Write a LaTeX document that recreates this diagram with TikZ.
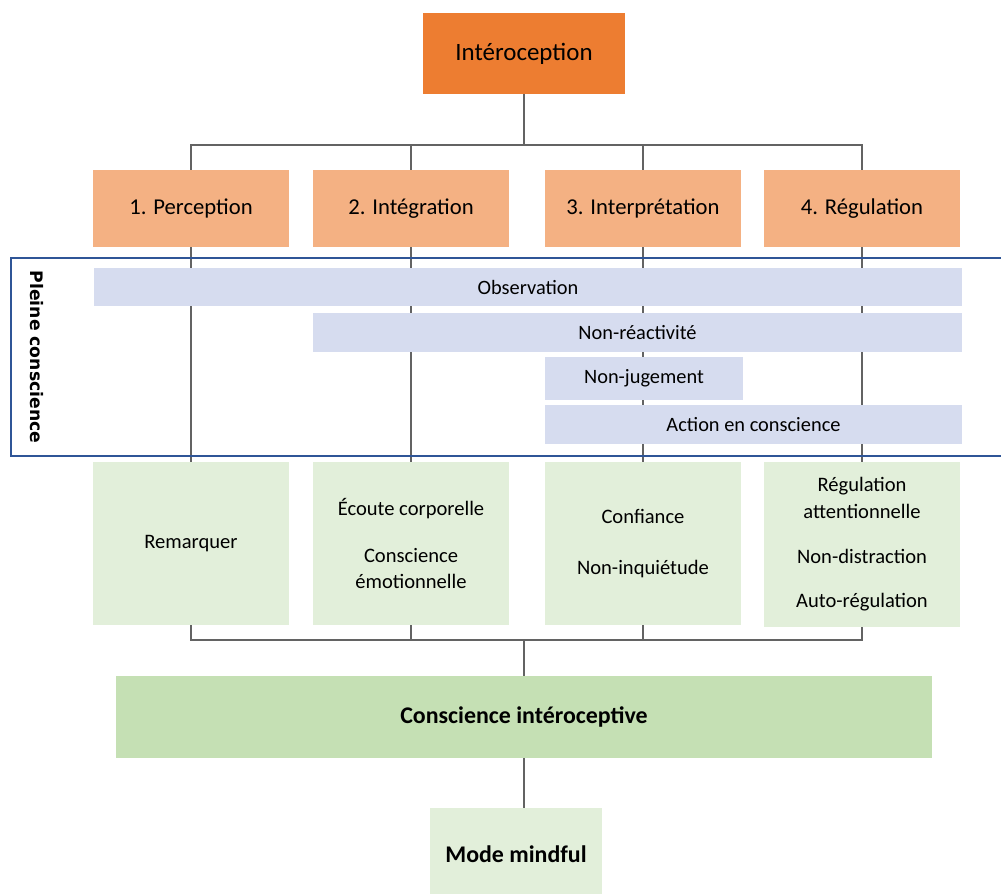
\documentclass[tikz,border=0pt]{standalone}
\usepackage{fontspec}
\setmainfont{Carlito}
\newfontfamily\pcfont{DejaVu Sans}
\definecolor{orangeD}{HTML}{ED7D31}
\definecolor{orangeL}{HTML}{F4B183}
\definecolor{lav}{HTML}{D6DCEF}
\definecolor{greenL}{HTML}{E2EFDA}
\definecolor{greenM}{HTML}{C5E0B4}
\definecolor{frameblue}{HTML}{2F5597}
\definecolor{linegray}{HTML}{636363}
\tikzset{
  box/.style={draw=none, inner sep=0pt, align=center, text=black},
  stagebox/.style={box, fill=orangeL, minimum width=3.94cm, minimum height=1.54cm, font=\fontsize{12.9}{15.5}\selectfont},
  barbox/.style={box, fill=lav, font=\fontsize{11.6}{14}\selectfont},
  greenbox/.style={box, fill=greenL, minimum width=3.94cm, minimum height=3.26cm, font=\fontsize{11.7}{15}\selectfont},
  conn/.style={draw=linegray, line width=1.4pt},
  frameline/.style={draw=frameblue, line width=1.5pt}
}
\begin{document}
\begin{tikzpicture}[x=0.02cm, y=-0.02cm]
\useasboundingbox (0,0) rectangle (1001,893);
% coordinates for buses
\coordinate (tb) at (524,145);
\coordinate (bb) at (524,640);
% nodes
\node[box, fill=orangeD, minimum width=4.04cm, minimum height=1.62cm, font=\fontsize{14.2}{17}\selectfont] (int) at (524,53.5) {Intéroception};
\node[stagebox] (s1) at (191,208.5) {1. Perception};
\node[stagebox] (s2) at (411,208.5) {2. Intégration};
\node[stagebox] (s3) at (643,208.5) {3. Interprétation};
\node[stagebox] (s4) at (862,208.5) {4. Régulation};
\node[greenbox] (g1) at (191,543.5) {Remarquer};
\node[greenbox] (g2) at (411,543.5) {Écoute corporelle\\[12pt]Conscience\\émotionnelle};
\node[greenbox] (g3) at (643,543.5) {Confiance\\[14pt]Non-inquiétude};
\node[greenbox, minimum height=3.3cm] (g4) at (862,544.5) {Régulation\\attentionnelle\\[11pt]Non-distraction\\[10pt]Auto-régulation};
% connectors (behind bars)
\draw[conn] (int.south) -- (tb);
\draw[conn] (s1.north) |- (s4.north |- tb) -- (s4.north);
\draw[conn] (s2.north) -- (s2.north |- tb);
\draw[conn] (s3.north) -- (s3.north |- tb);
\draw[conn] (s1.south) -- (g1.north);
\draw[conn] (s2.south) -- (g2.north);
\draw[conn] (s3.south) -- (g3.north);
\draw[conn] (s4.south) -- (g4.north);
\draw[conn] (g1.south) |- (g4.south |- bb) -- (g4.south);
\draw[conn] (g2.south) -- (g2.south |- bb);
\draw[conn] (g3.south) -- (g3.south |- bb);
% bars
\node[barbox, minimum width=17.36cm, minimum height=0.76cm] (obs) at (528,287) {Observation};
\node[barbox, minimum width=12.98cm, minimum height=0.78cm] (nr) at (637.5,332.5) {Non-réactivité};
\node[barbox, minimum width=3.96cm, minimum height=0.86cm] (nj) at (644,378.5) {Non-jugement};
\node[barbox, minimum width=8.34cm, minimum height=0.78cm] (aec) at (753.5,424.5) {Action en conscience};
% frame
\draw[frameline] (1003,258) -- (11,258) -- (11,456) -- (1003,456);
\node[box, rotate=-90, font=\pcfont\bfseries\fontsize{9.8}{12}\selectfont] (pc) at (37,357) {Pleine conscience};
% bottom
\node[box, fill=greenM, minimum width=16.34cm, minimum height=1.64cm, font=\bfseries\fontsize{13.6}{16}\selectfont] (ci) at (524,717) {Conscience intéroceptive};
\node[box, fill=greenL, minimum width=3.44cm, minimum height=1.84cm, font=\bfseries\fontsize{13.6}{16}\selectfont] (mm) at (516,854) {Mode mindful};
\draw[conn] (bb) -- (bb |- ci.north);
\draw[conn] (ci.south) -- (ci.south |- mm.north);
\end{tikzpicture}
\end{document}
